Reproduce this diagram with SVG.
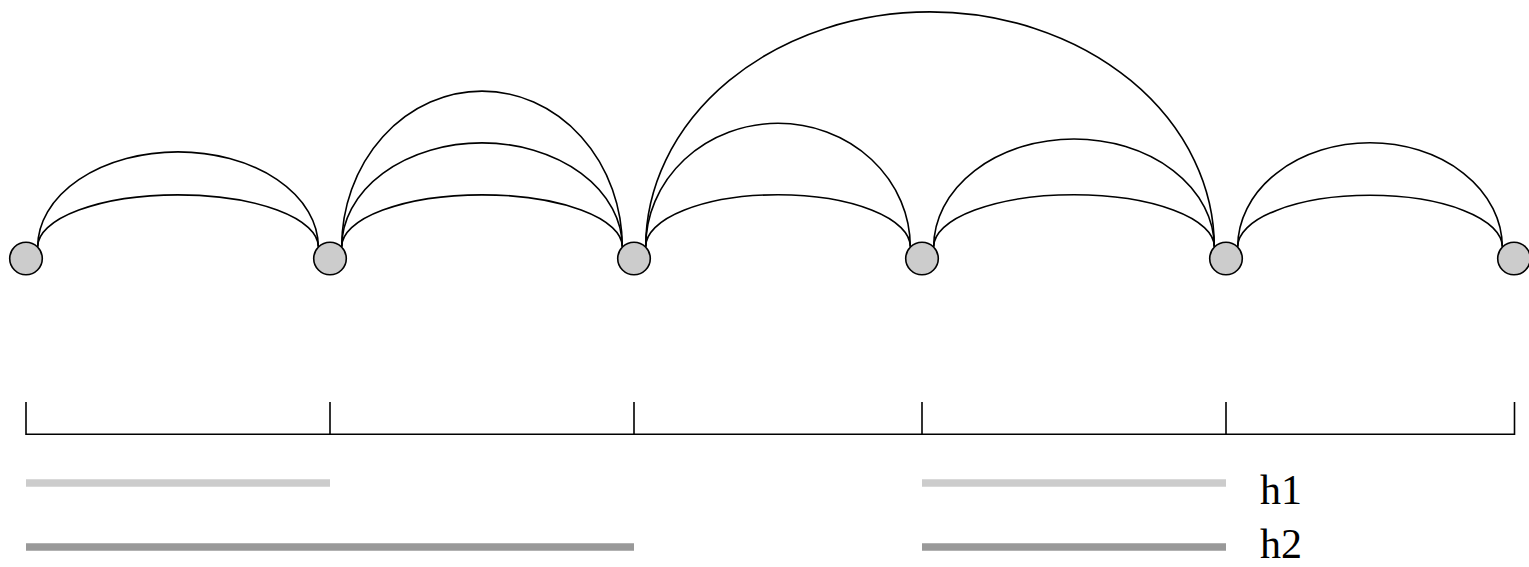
<svg xmlns="http://www.w3.org/2000/svg" width="1529" height="567" viewBox="0 0 1529 567">
<style>
.arc{fill:none;stroke:#000;stroke-width:1.6}
.node{fill:#ccc;stroke:#000;stroke-width:1.6}
.axis{fill:none;stroke:#000;stroke-width:1.6}
.h1{stroke:#ccc;stroke-width:7.5}
.h2{stroke:#999;stroke-width:7.5}
.lbl{font-family:"Liberation Serif","Times New Roman",serif;font-size:42px;fill:#000}
</style>
<rect width="1529" height="567" fill="#fff"/>
<g id="connectors">
<path class="arc" d="M37.7 246.8 A140.3 95 0 0 1 318.3 246.8"/>
<path class="arc" d="M37.7 246.8 A140.3 52 0 0 1 318.3 246.8"/>
<path class="arc" d="M341.7 246.8 A140.3 155.8 0 0 1 622.3 246.8"/>
<path class="arc" d="M341.7 246.8 A140.3 104 0 0 1 622.3 246.8"/>
<path class="arc" d="M341.7 246.8 A140.3 52 0 0 1 622.3 246.8"/>
<path class="arc" d="M645.7 246.8 A132.3 123.5 0 0 1 910.3 246.8"/>
<path class="arc" d="M645.7 246.8 A132.3 52 0 0 1 910.3 246.8"/>
<path class="arc" d="M645.7 246.8 A284.3 235 0 0 1 1214.3 246.8"/>
<path class="arc" d="M933.7 246.8 A140.3 107.8 0 0 1 1214.3 246.8"/>
<path class="arc" d="M933.7 246.8 A140.3 52 0 0 1 1214.3 246.8"/>
<path class="arc" d="M1237.7 246.8 A132.3 104 0 0 1 1502.3 246.8"/>
<path class="arc" d="M1237.7 246.8 A132.3 51.5 0 0 1 1502.3 246.8"/>
</g>
<g id="n1"><circle class="node" cx="26" cy="258.5" r="16.3"/></g>
<g id="n2"><circle class="node" cx="330" cy="258.5" r="16.3"/></g>
<g id="n3"><circle class="node" cx="634" cy="258.5" r="16.3"/></g>
<g id="n4"><circle class="node" cx="922" cy="258.5" r="16.3"/></g>
<g id="n5"><circle class="node" cx="1226" cy="258.5" r="16.3"/></g>
<g id="n6"><circle class="node" cx="1514" cy="258.5" r="16.3"/></g>
<g id="axis">
<path class="axis" d="M26 402 V434.3 H1514.5 V402 M330 402 V434.3 M634 402 V434.3 M922 402 V434.3 M1226 402 V434.3"/>
</g>
<g id="legend">
<line class="h1" x1="26" y1="483" x2="330" y2="483"/>
<line class="h1" x1="922" y1="483" x2="1226" y2="483"/>
<line class="h2" x1="26" y1="547" x2="634" y2="547"/>
<line class="h2" x1="922" y1="547" x2="1226" y2="547"/>
<text class="lbl" x="1260" y="504">h1</text>
<text class="lbl" x="1260" y="557.5">h2</text>
</g>
</svg>
